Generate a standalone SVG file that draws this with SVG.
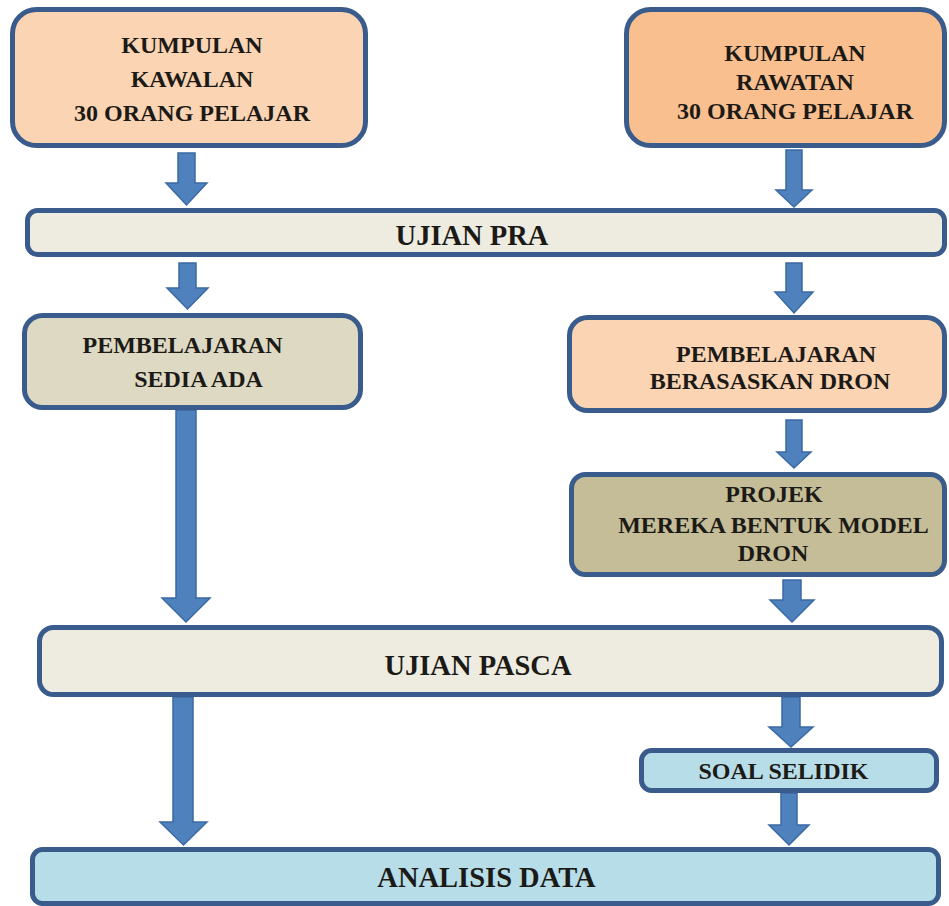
<svg xmlns="http://www.w3.org/2000/svg" width="949" height="906" viewBox="0 0 949 906">
<style>
.box{stroke:#3a5c8c;stroke-width:5}
.t{font-family:"Liberation Serif","Times New Roman",serif;font-weight:bold;fill:#1c1a16;text-anchor:middle}
.s{font-size:24px}
.b{font-size:28.5px}
.arr{fill:#4f81bd;stroke:#3a6aa3;stroke-width:1.5;stroke-linejoin:miter}
</style>
<rect width="949" height="906" fill="#ffffff"/>
<g id="connectors">
<polygon class="arr" points="178,153 195,153 195,183 207,183 186.5,205 166,183 178,183"/>
<polygon class="arr" points="786,150 802,150 802,190 812,190 794,207 776,190 786,190"/>
<polygon class="arr" points="179,263 196,263 196,288 208,288 187.5,309 167,288 179,288"/>
<polygon class="arr" points="786,263 802,263 802,292 813,292 794,313 775,292 786,292"/>
<polygon class="arr" points="176,410 196,410 196,598 210,598 186,622 162,598 176,598"/>
<polygon class="arr" points="786,420 802,420 802,452 811,452 794,468 777,452 786,452"/>
<polygon class="arr" points="783,580 801,580 801,600 814,600 792,622 770,600 783,600"/>
<polygon class="arr" points="173,697 193,697 193,822 207,822 183.5,845 160,822 173,822"/>
<polygon class="arr" points="782,697 800,697 800,727 813,727 791,747 769,727 782,727"/>
<polygon class="arr" points="781,793 797,793 797,825 809,825 789,845 769,825 781,825"/>
</g>
<g id="kawalan">
<rect class="box" x="12.5" y="9.5" width="353" height="136" rx="24" fill="#fbd4b4"/>
<text class="t s" x="192" y="53">KUMPULAN</text>
<text class="t s" x="192" y="87">KAWALAN</text>
<text class="t s" x="192" y="121">30 ORANG PELAJAR</text>
</g>
<g id="rawatan">
<rect class="box" x="626.5" y="9.5" width="318" height="136" rx="24" fill="#fabf8f"/>
<text class="t s" x="795" y="61">KUMPULAN</text>
<text class="t s" x="795" y="90">RAWATAN</text>
<text class="t s" x="795" y="119">30 ORANG PELAJAR</text>
</g>
<g id="ujian-pra">
<rect class="box" x="27.5" y="210.5" width="917" height="44" rx="10" fill="#eeece1"/>
<text class="t b" x="472" y="245">UJIAN PRA</text>
</g>
<g id="sedia-ada">
<rect class="box" x="24.5" y="315.5" width="336" height="92" rx="18" fill="#ddd9c3"/>
<text class="t s" x="182.5" y="353">PEMBELAJARAN</text>
<text class="t s" x="198.5" y="387">SEDIA ADA</text>
</g>
<g id="berasaskan-dron">
<rect class="box" x="569.5" y="317.5" width="375" height="93" rx="18" fill="#fbd4b4"/>
<text class="t s" x="776" y="362">PEMBELAJARAN</text>
<text class="t s" x="770" y="389">BERASASKAN DRON</text>
</g>
<g id="projek">
<rect class="box" x="571.5" y="474.5" width="373" height="100" rx="14" fill="#c4bd97"/>
<text class="t s" x="774" y="502">PROJEK</text>
<text class="t s" x="773.5" y="533">MEREKA BENTUK MODEL</text>
<text class="t s" x="773" y="561">DRON</text>
</g>
<g id="ujian-pasca">
<rect class="box" x="39.5" y="627.5" width="902" height="67" rx="14" fill="#eeece1"/>
<text class="t b" x="478" y="675">UJIAN PASCA</text>
</g>
<g id="soal-selidik">
<rect class="box" x="641.5" y="750.5" width="295" height="40" rx="10" fill="#b7dde8"/>
<text class="t s" x="783.5" y="779">SOAL SELIDIK</text>
</g>
<g id="analisis-data">
<rect class="box" x="32.5" y="849.5" width="906" height="54" rx="10" fill="#b7dde8"/>
<text class="t b" x="486.5" y="887">ANALISIS DATA</text>
</g>
</svg>
